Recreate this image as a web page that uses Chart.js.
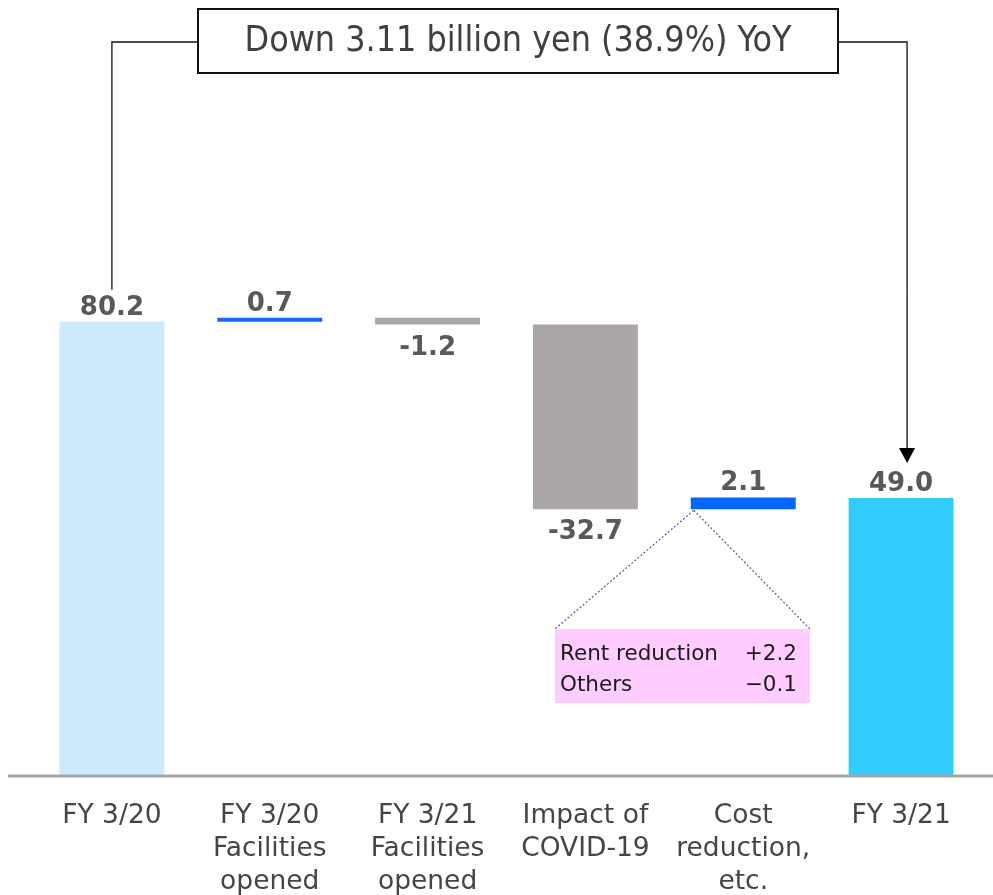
<!DOCTYPE html>
<html>
<head>
<meta charset="utf-8">
<script src="https://cdn.jsdelivr.net/npm/chart.js@4/dist/chart.umd.min.js"></script>
<style>
  html, body { margin: 0; padding: 0; background: #fff; }
</style>
</head>
<body>
<canvas id="chart" width="993" height="895"></canvas>
<script>
// Operating income bridge, FY 3/20 -> FY 3/21 (100 million yen)
const categories = [
  ['FY 3/20'],
  ['FY 3/20', 'Facilities', 'opened'],
  ['FY 3/21', 'Facilities', 'opened'],
  ['Impact of', 'COVID-19'],
  ['Cost', 'reduction,', 'etc.'],
  ['FY 3/21']
];
const changes = [80.2, 0.7, -1.2, -32.7, 2.1, 49.0];
const isTotal = [true, false, false, false, false, true];
const barColors = ['#cdeafc', '#1769ee', '#aaa6a5', '#aaa6a5', '#0766fa', '#33ccff'];

const breakdownLabels = ['Rent reduction', 'Others'];
const breakdownValues = ['+2.2', '\u22120.1'];
const headline = 'Down 3.11 billion yen (38.9%) YoY';

// floating [start, end] for each step of the waterfall
let running = 0;
const ranges = changes.map((v, i) => {
  if (isTotal[i]) { running = v; return [0, v]; }
  const r = [running, running + v];
  running += v;
  return r;
});

const NARROW = '"DejaVu Sans Condensed", "DejaVu Sans", sans-serif';
const SANS = '"DejaVu Sans", sans-serif';

const valueLabels = {
  id: 'valueLabels',
  afterDatasetsDraw(chart) {
    const ctx = chart.ctx;
    const meta = chart.getDatasetMeta(0);
    ctx.save();
    ctx.font = 'bold 26px ' + SANS;
    ctx.fillStyle = '#595959';
    ctx.textAlign = 'center';
    ctx.textBaseline = 'alphabetic';
    meta.data.forEach((bar, i) => {
      const top = Math.min(bar.y, bar.base);
      const bottom = Math.max(bar.y, bar.base);
      const txt = changes[i].toFixed(1);
      if (changes[i] >= 0) ctx.fillText(txt, bar.x, top - 7);
      else ctx.fillText(txt, bar.x, bottom + 30);
    });
    ctx.restore();
  }
};

const extras = {
  id: 'extras',
  beforeDraw(chart) {
    const ctx = chart.ctx;
    ctx.save();
    ctx.fillStyle = '#fff';
    ctx.fillRect(0, 0, chart.width, chart.height);
    ctx.restore();
  },
  afterDraw(chart) {
    const ctx = chart.ctx;
    const meta = chart.getDatasetMeta(0);
    const area = chart.chartArea;
    const first = meta.data[0], last = meta.data[meta.data.length - 1];

    ctx.save();
    // baseline
    ctx.strokeStyle = '#a6a6a6';
    ctx.lineWidth = 3;
    ctx.beginPath();
    ctx.moveTo(8, area.bottom + 1);
    ctx.lineTo(chart.width, area.bottom + 1);
    ctx.stroke();

    // headline box with the two connectors
    const bx = 198, by = 9, bw = 640, bh = 64, midY = 42;
    ctx.strokeStyle = '#111';
    ctx.lineWidth = 1.3;
    ctx.beginPath();
    ctx.moveTo(bx, midY); ctx.lineTo(first.x, midY); ctx.lineTo(first.x, first.y - 32);
    const ax = last.x + 6, tipY = last.y - 35;
    ctx.moveTo(bx + bw, midY); ctx.lineTo(ax, midY); ctx.lineTo(ax, tipY - 14);
    ctx.stroke();
    ctx.fillStyle = '#000';
    ctx.beginPath();
    ctx.moveTo(ax - 8, tipY - 15); ctx.lineTo(ax + 8, tipY - 15); ctx.lineTo(ax, tipY);
    ctx.closePath(); ctx.fill();

    ctx.fillStyle = '#fff';
    ctx.fillRect(bx, by, bw, bh);
    ctx.lineWidth = 2;
    ctx.strokeRect(bx, by, bw, bh);
    ctx.fillStyle = '#404040';
    ctx.font = '35.5px ' + NARROW;
    ctx.textAlign = 'center';
    ctx.textBaseline = 'middle';
    ctx.fillText(headline, bx + bw / 2, by + bh / 2 + 1);

    // breakdown callout for cost reduction
    const cost = meta.data[4];
    const cx = cost.x - cost.width / 2 + 3, cy = Math.max(cost.y, cost.base) + 1;
    const px = 555, py = 629, pw = 255, ph = 74;
    ctx.strokeStyle = '#4a5a99';
    ctx.lineWidth = 1.2;
    ctx.setLineDash([2, 2]);
    ctx.beginPath();
    ctx.moveTo(cx, cy); ctx.lineTo(px, py);
    ctx.moveTo(cx, cy); ctx.lineTo(px + pw, py);
    ctx.stroke();
    ctx.setLineDash([]);
    ctx.fillStyle = '#ffccff';
    ctx.fillRect(px, py, pw, ph);
    ctx.fillStyle = '#1a1a1a';
    ctx.font = '21.5px ' + SANS;
    ctx.textBaseline = 'alphabetic';
    breakdownLabels.forEach((lab, i) => {
      const yy = 660 + i * 31;
      ctx.textAlign = 'left';
      ctx.fillText(lab, px + 5, yy);
      ctx.textAlign = 'right';
      ctx.fillText(breakdownValues[i], px + 242, yy);
    });
    ctx.restore();
  }
};

new Chart(document.getElementById('chart'), {
  type: 'bar',
  data: {
    labels: categories,
    datasets: [{
      data: ranges,
      backgroundColor: barColors,
      borderWidth: 0,
      borderSkipped: false,
      categoryPercentage: 1,
      barPercentage: 0.665
    }]
  },
  options: {
    responsive: false,
    devicePixelRatio: 1,
    animation: false,
    layout: { padding: { left: 33, right: 13, top: 12, bottom: -29 } },
    plugins: { legend: { display: false }, tooltip: { enabled: false } },
    scales: {
      x: {
        grid: { display: false, drawTicks: false },
        border: { display: false },
        ticks: {
          autoSkip: false,
          maxRotation: 0,
          padding: 25,
          color: '#454545',
          font: { family: SANS, size: 26.5, lineHeight: '33px' }
        }
      },
      y: { display: false, min: 0, max: 135 }
    }
  },
  plugins: [extras, valueLabels]
});
</script>
</body>
</html>
